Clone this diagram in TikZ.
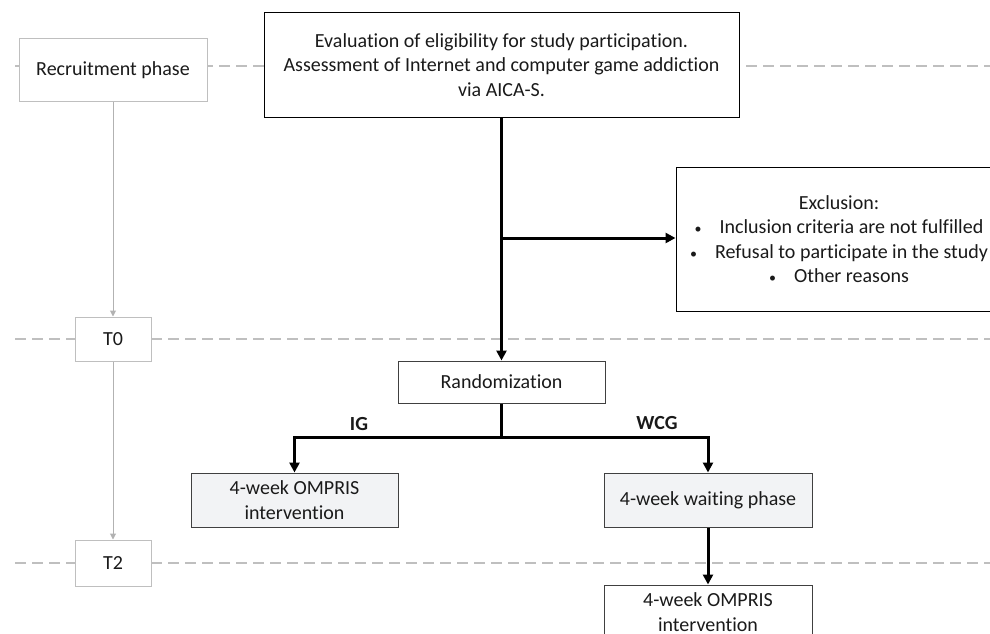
\documentclass[tikz,border=0pt]{standalone}
\usepackage{fontspec}
\setmainfont{Carlito}[Ligatures={NoCommon}]
\usetikzlibrary{arrows.meta}
\definecolor{dashgray}{HTML}{BFBFBF}
\definecolor{boxgray}{HTML}{F2F3F5}
\definecolor{txt}{HTML}{1A1A1A}
\definecolor{frame}{HTML}{404040}
\newcommand{\blt}{{\fontsize{14}{14}\selectfont\textbullet}\hspace{0.9em}}
\begin{document}
\begin{tikzpicture}[x=1pt,y=-1pt,
  every node/.style={font=\fontsize{20}{24.5}\selectfont, text=txt, inner sep=0pt, align=center},
  phasebox/.style={draw=black!25, line width=1pt, fill=white},
  mainbox/.style={draw=frame, line width=1pt, fill=white},
  graybox/.style={draw=frame, line width=1pt, fill=boxgray},
  dashline/.style={draw=dashgray, line width=2pt, dash pattern=on 11pt off 6pt},
  thickarrow/.style={draw=black, line width=3pt, line join=miter, -{Triangle[length=10pt,width=10pt]}},
  thinarrow/.style={draw=black!30, line width=1pt, -{Triangle[length=6pt,width=6pt]}},
  lbl/.style={font=\fontsize{20}{24}\selectfont\bfseries}
]
\useasboundingbox (0,0) rectangle (990,634);
% phase lines
\draw[dashline] (15,66) -- (990,66);
\draw[dashline] (15,339) -- (990,339);
\draw[dashline] (15,563) -- (990,563);

% phase boxes
\node[phasebox, minimum width=188pt, minimum height=62pt] (rec) at (113,70) {Recruitment phase};
\node[phasebox, minimum width=76pt, minimum height=44pt] (t0) at (113,339) {T0};
\node[phasebox, minimum width=76pt, minimum height=46pt] (t2) at (113,563) {T2};

% flow boxes
\node[mainbox, draw=black, minimum width=475pt, minimum height=104pt] (top) at (501.5,65)
  {Evaluation of eligibility for study participation.\\Assessment of Internet and computer game addiction\\via AICA-S.};
\node[mainbox, draw=black, minimum width=326pt, minimum height=144pt] (excl) at (839,239)
  {Exclusion:\\\blt Inclusion criteria are not fulfilled\\\blt Refusal to participate in the study\\\blt Other reasons};
\node[mainbox, minimum width=207pt, minimum height=42pt] (rand) at (501.5,382) {Randomization};
\node[graybox, minimum width=207pt, minimum height=54pt] (ig) at (294.5,500) {4-week OMPRIS\\intervention};
\node[graybox, minimum width=208pt, minimum height=54pt] (wait) at (708,500) {4-week waiting phase};
\node[mainbox, minimum width=208pt, minimum height=54pt] (final) at (708,612) {4-week OMPRIS\\intervention};

% timeline connectors
\draw[thinarrow] (rec.south) -- (t0.north);
\draw[thinarrow] (t0.south) -- (t2.north);

% main flow
\coordinate (j1) at (501.5,238);
\coordinate (j2) at (501.5,437);
\draw[thickarrow] (top.south) -- (rand.north);
\draw[thickarrow] (j1) -- (j1 -| excl.west);
\draw[draw=black, line width=3pt] (rand.south) -- (j2);
\draw[thickarrow] (j2) -| (ig.north);
\draw[thickarrow] (j2) -| (wait.north);
\draw[thickarrow] (wait.south) -- (final.north);

% labels
\node[lbl] (iglbl) at (359,424) {IG};
\node[lbl] (wcglbl) at (657,423) {WCG};
\end{tikzpicture}
\end{document}
